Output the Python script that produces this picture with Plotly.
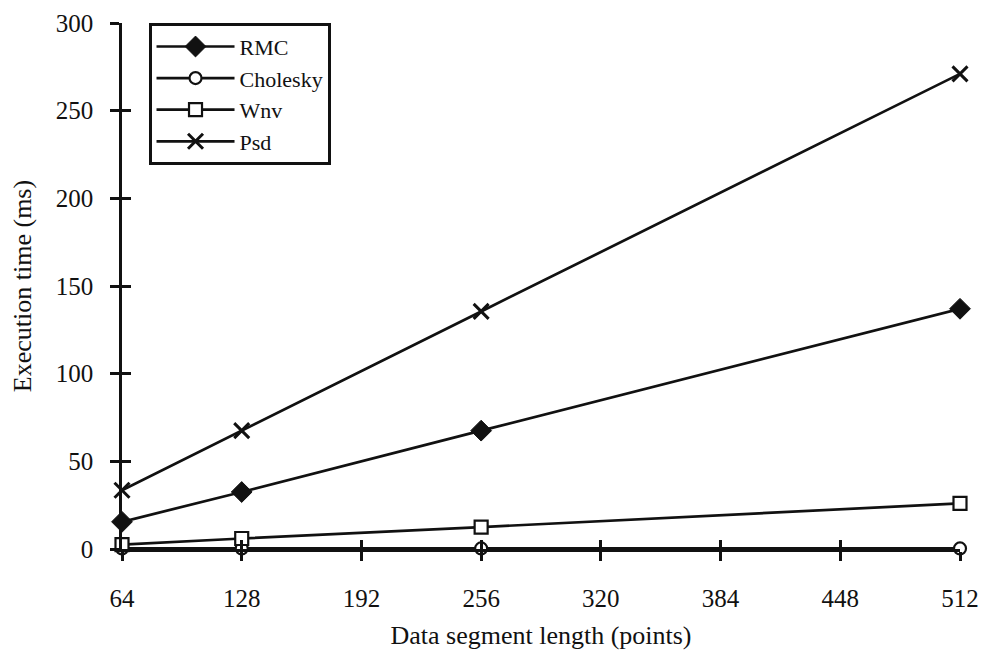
import plotly.graph_objects as go

x_vals = [64, 128, 256, 512]
rmc = [15.5, 32.5, 67.5, 137]
cholesky = [0.3, 0.3, 0.3, 0.3]
wnv = [2.5, 6, 12.5, 26]
psd = [33.5, 67.5, 135.5, 271]

x_ticks = [64, 128, 192, 256, 320, 384, 448, 512]
y_ticks = [0, 50, 100, 150, 200, 250, 300]

FONT = "Liberation Serif"
BLACK = "#111111"

fig = go.Figure()

series = [
    ("RMC", rmc, dict(symbol="diamond", size=16, color=BLACK, line=dict(color=BLACK, width=1))),
    ("Cholesky", cholesky, dict(symbol="circle", size=12, color="white", line=dict(color=BLACK, width=2.2))),
    ("Wnv", wnv, dict(symbol="square", size=13, color="white", line=dict(color=BLACK, width=2.2))),
    ("Psd", psd, dict(symbol="x-thin", size=15, color=BLACK, line=dict(color=BLACK, width=3))),
]
for name, ys, mk in series:
    fig.add_trace(go.Scatter(
        x=x_vals, y=ys, name=name, mode="lines+markers",
        line=dict(color=BLACK, width=2.7), marker=mk, cliponaxis=False,
    ))

# invisible trace for the overlay axes (inner half of crossing ticks)
fig.add_trace(go.Scatter(x=[64], y=[0], xaxis="x2", yaxis="y2", mode="markers",
                         marker=dict(opacity=0), showlegend=False, hoverinfo="skip"))

axis_common = dict(
    showgrid=False, zeroline=False, showline=True, linecolor=BLACK, linewidth=2.7,
    tickcolor=BLACK, tickwidth=2.7, ticklen=9, ticklabeloverflow="allow",
    automargin=False,
    tickfont=dict(family=FONT, size=25, color=BLACK),
)

fig.update_layout(
    width=972, height=642,
    margin=dict(l=114, r=20, t=15, b=101, autoexpand=False),
    paper_bgcolor="white", plot_bgcolor="white",
    font=dict(family=FONT, size=25, color=BLACK),
    xaxis=dict(**axis_common, range=[64, 512], tickvals=x_ticks, ticks="outside",
               ticklabelstandoff=16,
               title=dict(text="Data segment length (points)", font=dict(family=FONT, size=26, color=BLACK), standoff=18)),
    yaxis=dict(**axis_common, range=[0, 300], tickvals=y_ticks, ticks="outside",
               ticklabelstandoff=12,
               title=dict(text="Execution time (ms)", font=dict(family=FONT, size=26, color=BLACK), standoff=17)),
    xaxis2=dict(overlaying="x", matches="x", range=[64, 512], tickvals=x_ticks, ticks="inside",
                ticklen=9, tickwidth=2.7, tickcolor=BLACK, showticklabels=False, automargin=False,
                showgrid=False, zeroline=False, showline=False, side="bottom"),
    yaxis2=dict(overlaying="y", matches="y", range=[0, 300], tickvals=y_ticks, ticks="inside",
                ticklen=9, tickwidth=2.7, tickcolor=BLACK, showticklabels=False, automargin=False,
                showgrid=False, zeroline=False, showline=False, side="left"),
    legend=dict(x=0.032, y=1.0, xanchor="left", yanchor="top",
                bordercolor=BLACK, borderwidth=2.7, bgcolor="white",
                font=dict(family=FONT, size=22, color=BLACK),
                tracegroupgap=0, itemwidth=78),
    showlegend=True,
)

fig.write_html("out.html")
